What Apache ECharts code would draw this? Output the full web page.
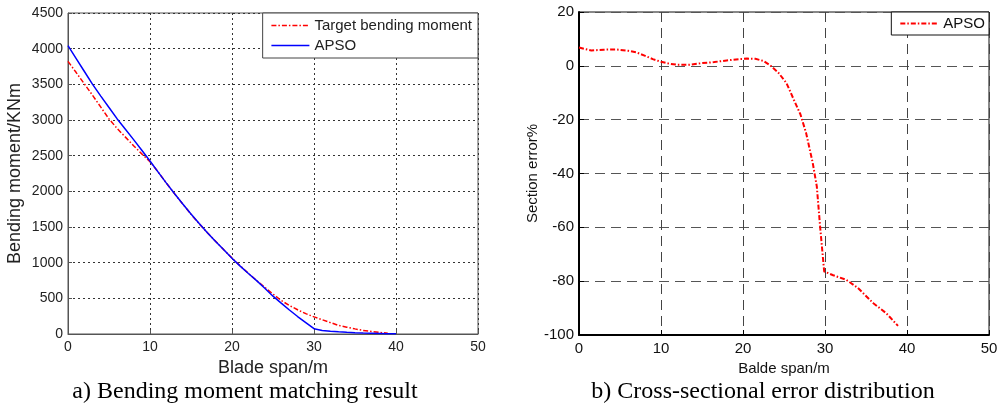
<!DOCTYPE html>
<html>
<head>
<meta charset="utf-8">
<script src="https://cdn.jsdelivr.net/npm/echarts@6/dist/echarts.min.js"></script>
<style>
html,body{margin:0;padding:0;background:#fff;}
#chart{width:1004px;height:409px;}
</style>
</head>
<body>
<div id="chart"></div>
<script>
// Left chart: bending moment (KNm) vs blade span (m)
const targetSpan = [0,1,2,3,4,5,6,7,8,9,10,11,12,13,14,15,16,17,18,19,20,21,22,23,24,25,26,27,28,29,30,31,32,33,34,35,36,37,38,39];
const targetMoment = [3822,3665,3505,3345,3180,3015,2880,2760,2640,2525,2415,2270,2115,1965,1820,1680,1545,1420,1300,1180,1065,955,850,750,655,560,470,400,340,285,240,200,160,120,95,72,50,35,22,12];
const apsoSpan = [0,1,2,3,4,5,6,7,8,9,10,11,12,13,14,15,16,17,18,19,20,21,22,23,24,25,26,27,28,29,30,31,32,33,34,35,36,37,38,39,40];
const apsoMoment = [4042,3860,3680,3500,3335,3175,3015,2870,2725,2575,2425,2270,2115,1965,1822,1682,1548,1420,1298,1180,1063,952,848,748,642,530,432,336,245,160,74,50,38,30,23,18,14,11,8,5,3];

// Right chart: section error (%) vs blade span (m)
const errSpan = [0,1.5,3,4.5,6,7,8,9,10,11,12,13.5,15,16.5,18,19.5,20.5,21.5,22.5,23.3,24.3,25.3,26.2,27,27.7,28.5,29,29.4,29.9,31,32.6,34,35.9,37.5,38.9];
const errValue = [6.8,5.7,6.0,6.1,5.6,5.0,3.8,2.5,1.5,0.8,0.4,0.4,1.0,1.4,2.0,2.5,2.7,2.6,1.8,0.2,-2.5,-6.4,-12.6,-18,-25,-36,-44.8,-59.6,-76.4,-77.8,-79.5,-82.5,-88.2,-92,-96.6];

const leftYTicks = {min:0, max:4500, interval:500};
const rightYTicks = {min:-100, max:20, interval:20};
const xTicks = {min:0, max:50, interval:10};

const zip = (a,b) => a.map((v,i)=>[v,b[i]]);
const FONT = '"Liberation Sans", Arial, sans-serif';
const dashDot = [5,2,1.5,2];
const plain = v => String(v);
const noMarker = {opacity:0, borderWidth:0};

const chart = echarts.init(document.getElementById('chart'), null, {renderer:'canvas'});
chart.setOption({
  animation:false,
  backgroundColor:'#fff',
  grid:[
    {left:68, top:13, width:410, height:321, show:true, borderColor:'#555', borderWidth:1, backgroundColor:'transparent'},
    {left:579, top:12, width:410, height:323, show:true, borderColor:'#111', borderWidth:1, backgroundColor:'transparent'}
  ],
  xAxis:[
    {gridIndex:0, type:'value', min:xTicks.min, max:xTicks.max, interval:xTicks.interval,
     name:'Blade span/m', nameLocation:'middle', nameGap:23,
     nameTextStyle:{fontFamily:FONT, fontSize:18, color:'#222'},
     axisLine:{show:true, onZero:false, lineStyle:{color:'#555', width:1}},
     axisTick:{show:true, inside:true, length:4, lineStyle:{color:'#555'}},
     axisLabel:{fontFamily:FONT, fontSize:14, color:'#222', margin:6, formatter:plain},
     splitLine:{show:true, lineStyle:{color:'#333', type:[2,3], width:1}}},
    {gridIndex:1, type:'value', min:xTicks.min, max:xTicks.max, interval:xTicks.interval,
     name:'Balde span/m', nameLocation:'middle', nameGap:25,
     nameTextStyle:{fontFamily:FONT, fontSize:15, color:'#111'},
     axisLine:{show:true, onZero:false, lineStyle:{color:'#000', width:2}},
     axisTick:{show:true, inside:true, length:5, lineStyle:{color:'#000'}},
     axisLabel:{fontFamily:FONT, fontSize:15, color:'#111', margin:6, formatter:plain},
     splitLine:{show:true, lineStyle:{color:'#444', type:[10,6], width:1}}}
  ],
  yAxis:[
    {gridIndex:0, type:'value', min:leftYTicks.min, max:leftYTicks.max, interval:leftYTicks.interval,
     name:'Bending moment/KNm', nameLocation:'middle', nameGap:44,
     nameTextStyle:{fontFamily:FONT, fontSize:18, color:'#222'},
     axisLine:{show:true, onZero:false, lineStyle:{color:'#555', width:1}},
     axisTick:{show:true, inside:true, length:4, lineStyle:{color:'#555'}},
     axisLabel:{fontFamily:FONT, fontSize:14, color:'#222', margin:5, formatter:plain},
     splitLine:{show:true, lineStyle:{color:'#333', type:[2,3], width:1}}},
    {gridIndex:1, type:'value', min:rightYTicks.min, max:rightYTicks.max, interval:rightYTicks.interval,
     name:'Section error%', nameLocation:'middle', nameGap:35,
     nameTextStyle:{fontFamily:FONT, fontSize:15, color:'#111'},
     axisLine:{show:true, onZero:false, lineStyle:{color:'#000', width:2}},
     axisTick:{show:true, inside:true, length:5, lineStyle:{color:'#000'}},
     axisLabel:{fontFamily:FONT, fontSize:15, color:'#111', margin:5, formatter:plain},
     splitLine:{show:true, lineStyle:{color:'#555', type:[10,6], width:1.2}}}
  ],
  legend:[
    {orient:'vertical', right:1004-478, top:13, backgroundColor:'#fff',
     borderColor:'#444', borderWidth:1, borderRadius:0, padding:[5,6,5,8],
     itemWidth:38, itemHeight:14, itemGap:5, itemStyle:noMarker,
     textStyle:{fontFamily:FONT, fontSize:15, color:'#222'},
     data:[
       {name:'Target bending moment', itemStyle:noMarker, lineStyle:{color:'#ff0000', type:dashDot, width:1.5}},
       {name:'APSO', itemStyle:noMarker, lineStyle:{color:'#0000ff', type:'solid', width:1.5}}
     ]},
    {orient:'vertical', right:1004-989, top:12, backgroundColor:'#fff',
     borderColor:'#111', borderWidth:1, borderRadius:0, padding:[4,4,4,8],
     itemWidth:38, itemHeight:14, itemGap:5, itemStyle:noMarker,
     textStyle:{fontFamily:FONT, fontSize:15, color:'#111'},
     data:[
       {name:'APSO', itemStyle:noMarker, lineStyle:{color:'#ff0000', type:dashDot, width:2}}
     ]}
  ],
  graphic:[
    {type:'text', position:[245,392], style:{text:'a) Bending moment matching result', fontFamily:'"Liberation Serif","Times New Roman",serif', fontSize:24, fill:'#000', textAlign:'center', textVerticalAlign:'middle'}},
    {type:'text', position:[763,392], style:{text:'b) Cross-sectional error distribution', fontFamily:'"Liberation Serif","Times New Roman",serif', fontSize:24, fill:'#000', textAlign:'center', textVerticalAlign:'middle'}}
  ],
  series:[
    {name:'Target bending moment', type:'line', xAxisIndex:0, yAxisIndex:0, data:zip(targetSpan,targetMoment),
     symbol:'none', smooth:false, lineStyle:{color:'#ff0000', width:1.5, type:dashDot}, itemStyle:{color:'#ff0000'}, z:2},
    {name:'APSO', type:'line', xAxisIndex:0, yAxisIndex:0, data:zip(apsoSpan,apsoMoment),
     symbol:'none', smooth:false, lineStyle:{color:'#0000ff', width:1.5, type:'solid'}, itemStyle:{color:'#0000ff'}, z:3},
    {name:'APSO', type:'line', xAxisIndex:1, yAxisIndex:1, data:zip(errSpan,errValue),
     symbol:'none', smooth:false, lineStyle:{color:'#ff0000', width:2, type:dashDot}, itemStyle:{color:'#ff0000'}, z:3}
  ]
});
</script>
</body>
</html>
